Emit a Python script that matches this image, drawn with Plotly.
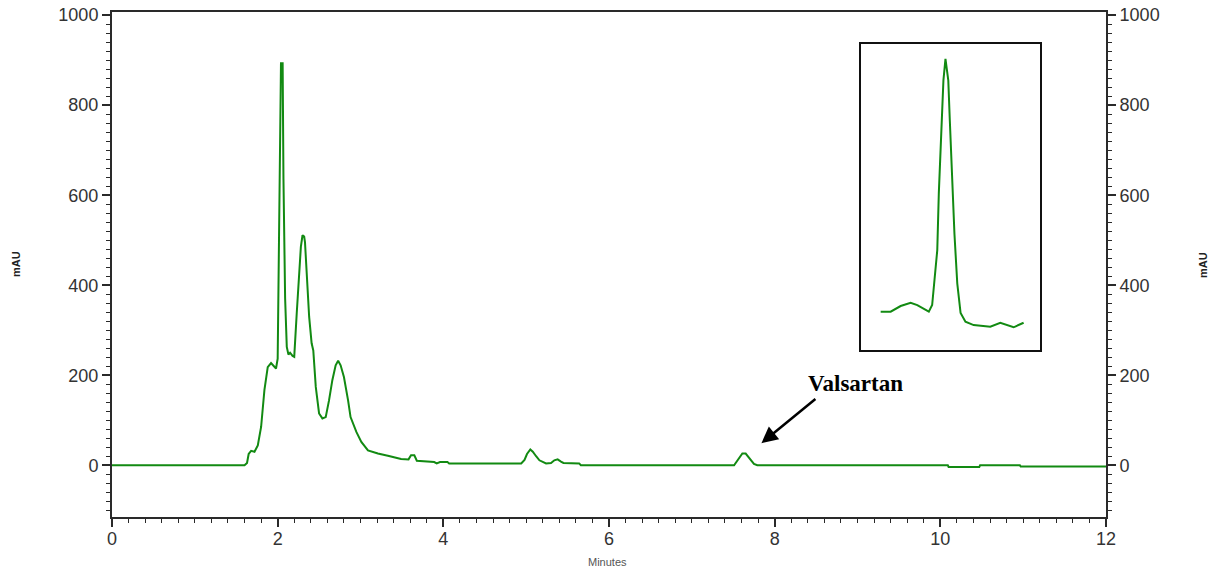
import plotly.graph_objects as go

# Main chromatogram (minutes, mAU)
time_min = [0.00, 1.60, 1.63, 1.65, 1.68, 1.72, 1.76, 1.80, 1.84, 1.88, 1.92, 1.95, 1.98,
            2.00, 2.02, 2.04, 2.06, 2.07, 2.09, 2.11, 2.13, 2.15, 2.18, 2.20, 2.23, 2.26,
            2.28, 2.30, 2.32, 2.33, 2.35, 2.38, 2.41, 2.43, 2.46, 2.50, 2.54, 2.58, 2.62,
            2.66, 2.70, 2.73, 2.76, 2.80, 2.85, 2.88, 2.95, 3.01, 3.09, 3.21, 3.33, 3.39,
            3.49, 3.58, 3.61, 3.65, 3.68, 3.89, 3.92, 3.96, 4.05, 4.07, 4.94, 4.98, 5.01,
            5.05, 5.08, 5.12, 5.16, 5.24, 5.30, 5.34, 5.38, 5.42, 5.45, 5.64, 5.66, 7.51,
            7.56, 7.61, 7.65, 7.70, 7.75, 7.79, 10.09, 10.10, 10.47, 10.48, 10.96, 10.97, 12.00]
signal_mau = [0, 0, 5, 25, 32, 30, 44, 85, 167, 218, 227, 222, 215,
              237, 515, 893, 893, 637, 371, 263, 246, 250, 243, 241, 337, 433,
              485, 511, 508, 495, 433, 330, 271, 255, 174, 115, 104, 107, 144,
              189, 222, 232, 222, 196, 144, 107, 74, 52, 33, 26, 21, 18,
              14, 13, 22, 22, 10, 7, 4, 7, 7, 4, 4, 12, 25,
              35, 30, 20, 11, 4, 5, 11, 13, 8, 5, 4, 0, 0,
              12, 26, 26, 14, 3, 0, 0, -4, -4, 0, 0, -3, -3]

# Inset: enlarged Valsartan peak
inset_time = [7.378, 7.417, 7.456, 7.495, 7.521, 7.566, 7.579, 7.586, 7.599, 7.605, 7.615,
              7.623, 7.631, 7.642, 7.648, 7.657, 7.666, 7.677, 7.690, 7.709, 7.741, 7.806,
              7.845, 7.897, 7.936]
inset_signal = [1.71, 1.71, 2.34, 2.71, 2.45, 1.71, 2.45, 4.87, 8.58, 14.9, 22.2,
                27.5, 29.9, 27.5, 23.0, 16.3, 10.4, 4.87, 1.56, 0.59, 0.22, 0.04,
                0.48, -0.03, 0.48]

x_ticks = [0, 2, 4, 6, 8, 10, 12]
y_ticks = [0, 200, 400, 600, 800, 1000]

GREEN = "#128a12"
AX = "#2a2a2a"
TICKFONT = dict(family="Liberation Sans Narrow, Liberation Sans, Arial", size=18, color="#333333")

fig = go.Figure()
fig.add_trace(go.Scatter(x=time_min, y=signal_mau, mode="lines",
                         line=dict(color=GREEN, width=2), showlegend=False, hoverinfo="skip"))
fig.add_trace(go.Scatter(x=time_min[:1], y=signal_mau[:1], mode="markers", yaxis="y3",
                         marker=dict(opacity=0), showlegend=False, hoverinfo="skip"))
fig.add_trace(go.Scatter(x=inset_time, y=inset_signal, mode="lines", xaxis="x2", yaxis="y2",
                         line=dict(color=GREEN, width=2), showlegend=False, hoverinfo="skip"))

yrange = [-115, 1007]
minor_y = dict(dtick=20, ticklen=4, tickwidth=1, tickcolor=AX, ticks="outside", showgrid=False)

fig.update_layout(
    width=1219, height=575,
    margin=dict(l=112, r=113, t=12, b=58),
    template="none",
    paper_bgcolor="white", plot_bgcolor="white",
    xaxis=dict(range=[0, 12], tickvals=x_ticks, ticks="outside", ticklen=8, tickwidth=2,
               tickcolor=AX, showline=True, linecolor=AX, linewidth=2, mirror=True,
               showgrid=False, zeroline=False, tickfont=TICKFONT, ticklabelstandoff=-4,
               minor=dict(dtick=0.2, ticklen=4, tickwidth=1, tickcolor=AX, ticks="outside",
                          showgrid=False)),
    yaxis=dict(range=yrange, tickvals=y_ticks, ticks="outside", ticklen=8, tickwidth=2,
               tickcolor=AX, showline=True, linecolor=AX, linewidth=2,
               showgrid=False, zeroline=False, tickfont=TICKFONT, minor=minor_y),
    yaxis3=dict(range=yrange, overlaying="y", side="right", anchor="x", tickvals=y_ticks,
                ticks="outside", ticklen=8, tickwidth=2, tickcolor=AX, showline=True,
                linecolor=AX, linewidth=2, showgrid=False, zeroline=False,
                tickfont=TICKFONT, minor=minor_y),
    xaxis2=dict(domain=[0.7532, 0.9336], anchor="y2", range=[7.3, 8.0], showline=True,
                mirror=True, linecolor="#111111", linewidth=2, showticklabels=False,
                ticks="", showgrid=False, zeroline=False),
    yaxis2=dict(domain=[0.3307, 0.9366], anchor="x2", range=[-2.56, 31.55], showline=True,
                mirror=True, linecolor="#111111", linewidth=2, showticklabels=False,
                ticks="", showgrid=False, zeroline=False),
)

TITLEFONT = dict(family="Liberation Sans, Arial", size=11, color="#222222")
fig.add_annotation(text="<b>mAU</b>", xref="paper", yref="paper", x=-0.097, y=0.5,
                   xanchor="center", yanchor="middle", textangle=-90,
                   showarrow=False, font=TITLEFONT)
fig.add_annotation(text="<b>mAU</b>", xref="paper", yref="paper", x=1.097, y=0.5,
                   xanchor="center", yanchor="middle", textangle=-90,
                   showarrow=False, font=TITLEFONT)
fig.add_annotation(text="Minutes", xref="paper", yref="paper", x=0.4985, y=-0.089,
                   xanchor="center", yanchor="middle",
                   showarrow=False, font=dict(family="Liberation Sans, Arial", size=11,
                                              color="#555555"))
# Valsartan label and arrow
fig.add_annotation(text="<b>Valsartan</b>", xref="x", yref="y", x=8.97, y=182, showarrow=False,
                   font=dict(family="Liberation Serif, Times New Roman", size=23, color="black"))
fig.add_annotation(text="", xref="x", yref="y", x=7.84, y=49, axref="x", ayref="y",
                   ax=8.51, ay=150, showarrow=True, arrowhead=2, arrowsize=1.3,
                   arrowwidth=2.5, arrowcolor="black")

fig.write_html("out.html")
